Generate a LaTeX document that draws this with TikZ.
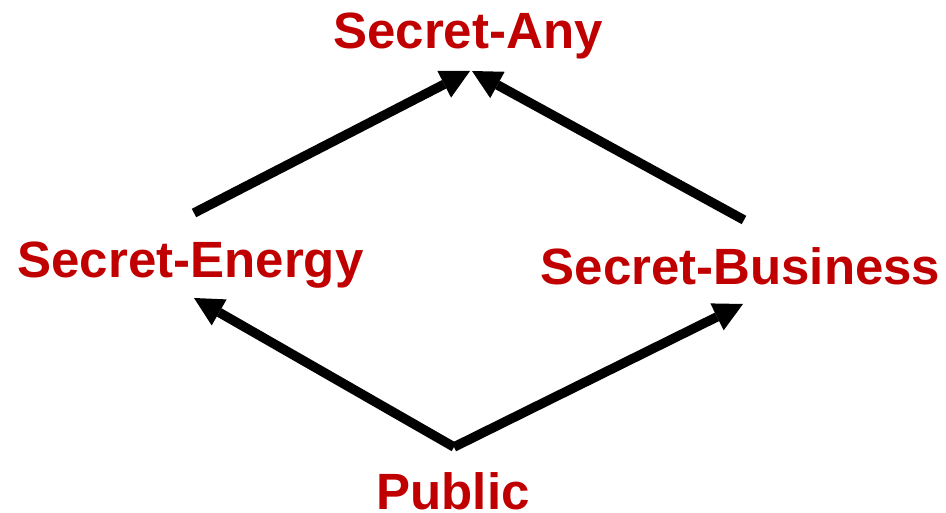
\documentclass[tikz,border=0pt]{standalone}
\usepackage{fontspec}
\setmainfont{Liberation Sans}
\usetikzlibrary{arrows.meta}
\definecolor{levelred}{RGB}{192,0,0}
\begin{document}
\begin{tikzpicture}[x=1pt,y=-1pt,
  level/.style={text=levelred, font=\bfseries\fontsize{51}{60}\selectfont,
                inner sep=0pt, anchor=base},
  flow/.style={line width=9.5pt, -{Triangle[length=29pt,width=30pt,line width=0pt]}}]
  \useasboundingbox (0,0) rectangle (946,513);

  % security levels
  \node[level] (any)      at (468,49)  {Secret-Any};
  \node[level] (energy)   at (190.5,278) {Secret-Energy};
  \node[level] (business) at (740.5,285) {Secret-Business};
  \node[level] (public)   at (453,509) {Public};

  % attachment points of the ordering arrows
  \coordinate (pubTop)  at (454,447);
  \coordinate (eneIn)   at (194,298);
  \coordinate (eneOut)  at (194,213);
  \coordinate (busIn)   at (743,304);
  \coordinate (busOut)  at (744,220);
  \coordinate (anyInL)  at (470,71);
  \coordinate (anyInR)  at (472,71);

  \draw[flow] (pubTop) -- (eneIn);
  \draw[flow] (pubTop) -- (busIn);
  \draw[flow] (eneOut) -- (anyInL);
  \draw[flow] (busOut) -- (anyInR);
\end{tikzpicture}
\end{document}
